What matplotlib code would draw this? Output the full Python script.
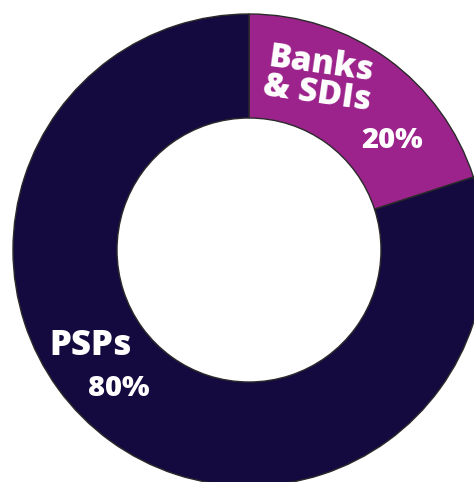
import matplotlib.pyplot as plt

labels = ["Banks\n& SDIs", "PSPs"]
shares = [20, 80]
colors = ["#9c238c", "#150a40"]

fig = plt.figure(figsize=(4.74, 4.82), dpi=100)
ax = fig.add_axes([0, 0, 1, 1])

# donut centred slightly off the right / bottom edges
ax.pie(shares, colors=colors, startangle=90, counterclock=False,
       center=(249, 232), radius=236, frame=True,
       wedgeprops=dict(width=104, edgecolor="#2a2a2a", linewidth=1))
ax.set_xlim(0, 474)
ax.set_ylim(0, 482)
ax.set_aspect("equal")
ax.axis("off")

font = dict(family=["Open Sans", "DejaVu Sans"], weight="heavy", color="white")
ax.text(319, 403, labels[0], fontsize=24, ha="center", va="center",
        rotation=-8, linespacing=0.82, **font)
ax.text(392, 342, f"{shares[0]}%", fontsize=21, ha="center", va="center", **font)
ax.text(91, 136, labels[1], fontsize=25, ha="center", va="center", **font)
ax.text(119, 94, f"{shares[1]}%", fontsize=21, ha="center", va="center", **font)

fig.savefig("out.png", dpi=100)
